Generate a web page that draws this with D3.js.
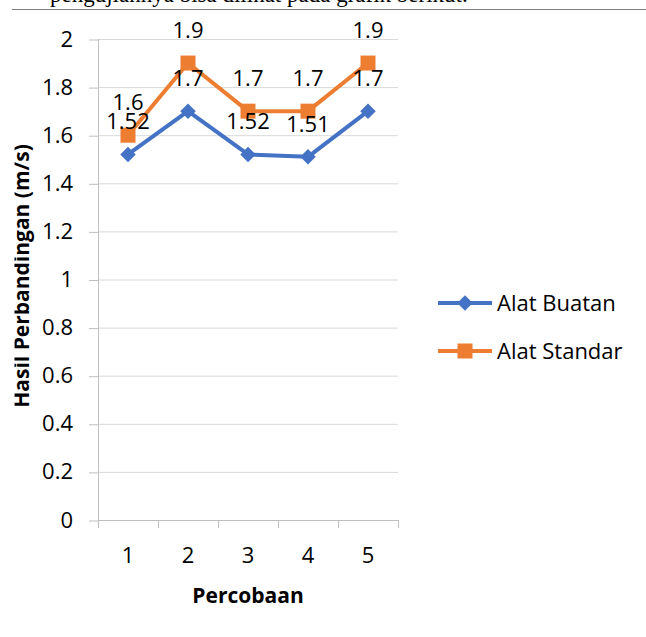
<!DOCTYPE html>
<html>
<head>
<meta charset="utf-8">
<script src="https://cdn.jsdelivr.net/npm/d3@7/dist/d3.min.js"></script>
<style>
  body { margin: 0; background: #fff; }
  svg { display: block; }
</style>
</head>
<body>
<svg width="646" height="637"></svg>
<script>
var categories = ["1", "2", "3", "4", "5"];
var buatan = [1.52, 1.7, 1.52, 1.51, 1.7];
var standar = [1.6, 1.9, 1.7, 1.7, 1.9];
var yTicks = [0, 0.2, 0.4, 0.6, 0.8, 1, 1.2, 1.4, 1.6, 1.8, 2];
var seriesNames = ["Alat Buatan", "Alat Standar"];
var seriesColors = ["#4472c4", "#ed7d31"];

var svg = d3.select("svg");
var width = +svg.attr("width");
var height = +svg.attr("height");
var font = "'Open Sans', sans-serif";

// bit of the document page above the chart
svg.append("text")
  .attr("x", 50)
  .attr("y", 2)
  .style("font-family", "'Liberation Serif', serif")
  .style("font-size", "23px")
  .attr("fill", "#000")
  .text("pengujiannya bisa dilihat pada grafik berikut.");
svg.append("line")
  .attr("x1", 12).attr("x2", width)
  .attr("y1", 9.5).attr("y2", 9.5)
  .attr("stroke", "#808080");

var margin = { top: 39, left: 98, right: 248, bottom: 117 };
var innerWidth = width - margin.left - margin.right;
var innerHeight = height - margin.top - margin.bottom;

var xScale = d3.scaleBand()
  .domain(categories)
  .range([0, innerWidth]);
var yScale = d3.scaleLinear()
  .domain([0, 2])
  .range([innerHeight, 0]);

var g = svg.append("g")
  .attr("transform", "translate(" + margin.left + "," + margin.top + ")");

// gridlines
g.selectAll(".grid")
  .data(yTicks)
  .enter()
  .append("line")
  .attr("class", "grid")
  .attr("x1", 0).attr("x2", innerWidth)
  .attr("y1", function (d) { return yScale(d) + 0.5; })
  .attr("y2", function (d) { return yScale(d) + 0.5; })
  .attr("stroke", "#d9d9d9");

// y axis
var yAxis = d3.axisLeft(yScale)
  .tickValues(yTicks)
  .tickSize(9)
  .tickPadding(16)
  .tickFormat(function (d) { return String(d); });
var yG = g.append("g").call(yAxis);
yG.select(".domain").remove();
yG.selectAll("line").attr("stroke", "#bfbfbf").attr("transform", "translate(0,0.5)");
yG.selectAll("text")
  .style("font-family", font)
  .style("font-size", "22px")
  .attr("fill", "#000");
g.append("line")
  .attr("x1", 0.5).attr("x2", 0.5)
  .attr("y1", 0).attr("y2", innerHeight + 8)
  .attr("stroke", "#bfbfbf");

// x axis
var xAxis = d3.axisBottom(xScale).tickSize(0).tickPadding(27);
var xG = g.append("g")
  .attr("transform", "translate(0," + innerHeight + ")")
  .call(xAxis);
xG.select(".domain").remove();
xG.selectAll("text")
  .style("font-family", font)
  .style("font-size", "22px")
  .attr("fill", "#000");
g.append("line")
  .attr("x1", 0).attr("x2", innerWidth)
  .attr("y1", innerHeight + 0.5).attr("y2", innerHeight + 0.5)
  .attr("stroke", "#bfbfbf");
var edges = categories.map(function (c) { return xScale(c); }).concat([innerWidth]);
g.selectAll(".xtick")
  .data(edges)
  .enter()
  .append("line")
  .attr("class", "xtick")
  .attr("x1", function (d) { return d + 0.5; })
  .attr("x2", function (d) { return d + 0.5; })
  .attr("y1", innerHeight).attr("y2", innerHeight + 8)
  .attr("stroke", "#bfbfbf");

// axis titles
svg.append("text")
  .attr("x", margin.left + innerWidth / 2)
  .attr("y", 603)
  .attr("text-anchor", "middle")
  .style("font-family", font)
  .style("font-size", "21px")
  .style("font-weight", "bold")
  .text("Percobaan");

// the left edge of the y title is cut off in the original
svg.append("clipPath").attr("id", "cut")
  .append("rect").attr("x", 14.5).attr("y", 0).attr("width", width).attr("height", height);
svg.append("g").attr("clip-path", "url(#cut)")
  .append("text")
  .attr("transform", "translate(29,276) rotate(-90)")
  .attr("text-anchor", "middle")
  .style("font-family", font)
  .style("font-size", "21px")
  .style("font-weight", "bold")
  .text("Hasil Perbandingan (m/s)");

// lines and markers
var series = [buatan, standar];
var symbols = [
  d3.symbol().type(d3.symbolSquare).size(120),
  d3.symbol().type(d3.symbolSquare).size(225)
];
var rotations = [45, 0];
var cx = function (i) { return xScale(categories[i]) + xScale.bandwidth() / 2; };

var line = d3.line()
  .x(function (d, i) { return cx(i); })
  .y(function (d) { return yScale(d); });

series.forEach(function (values, s) {
  g.append("path")
    .datum(values)
    .attr("d", line)
    .attr("fill", "none")
    .attr("stroke", seriesColors[s])
    .attr("stroke-width", 4)
    .attr("stroke-linejoin", "round");
  g.selectAll(".mk" + s)
    .data(values)
    .enter()
    .append("path")
    .attr("class", "mk" + s)
    .attr("d", symbols[s])
    .attr("transform", function (d, i) {
      return "translate(" + cx(i) + "," + yScale(d) + ") rotate(" + rotations[s] + ")";
    })
    .attr("fill", seriesColors[s]);
});

// data labels
series.forEach(function (values, s) {
  g.selectAll(".lb" + s)
    .data(values)
    .enter()
    .append("text")
    .attr("class", "lb" + s)
    .attr("x", function (d, i) { return cx(i); })
    .attr("y", function (d) { return yScale(d) - 25; })
    .attr("text-anchor", "middle")
    .style("font-family", font)
    .style("font-size", "22px")
    .attr("fill", "#000")
    .text(function (d) { return String(d); });
});

// legend
var legend = svg.append("g").attr("transform", "translate(438,303)");
seriesNames.forEach(function (name, s) {
  var row = legend.append("g").attr("transform", "translate(0," + s * 48 + ")");
  row.append("line")
    .attr("x1", 0).attr("x2", 54)
    .attr("stroke", seriesColors[s])
    .attr("stroke-width", 4);
  row.append("path")
    .attr("d", symbols[s])
    .attr("transform", "translate(27,0) rotate(" + rotations[s] + ")")
    .attr("fill", seriesColors[s]);
  row.append("text")
    .attr("x", 59)
    .attr("dy", "0.35em")
    .style("font-family", font)
    .style("font-size", "22px")
    .attr("fill", "#000")
    .text(name);
});
</script>
</body>
</html>
